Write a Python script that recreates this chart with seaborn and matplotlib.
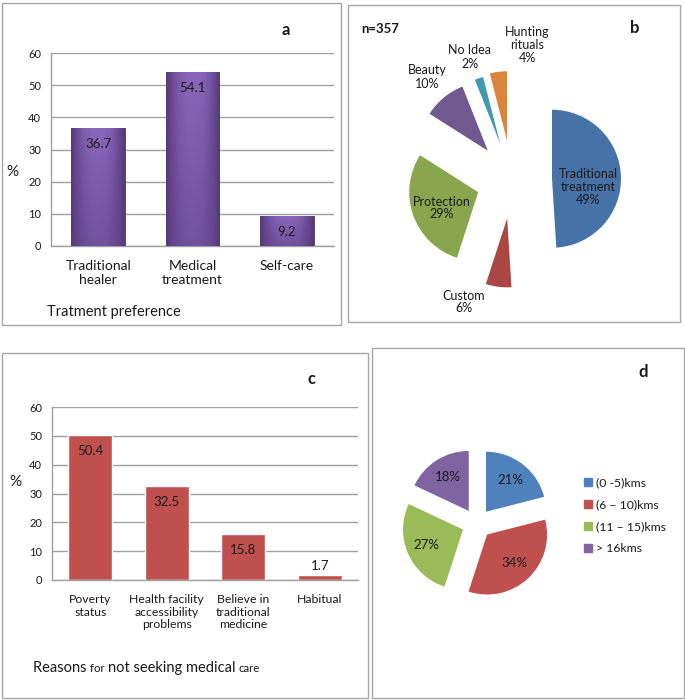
import numpy as np
import pandas as pd
import matplotlib
matplotlib.use("Agg")
import matplotlib.pyplot as plt
import seaborn as sns
from matplotlib.patches import Rectangle
from matplotlib.lines import Line2D
from matplotlib.colors import LinearSegmentedColormap

# -------------------------
# Datos
# -------------------------
pref_cats = ["Traditional\nhealer", "Medical\ntreatment", "Self-care"]
pref_vals = [36.7, 54.1, 9.2]

use_labels = ["Traditional\ntreatment", "Custom", "Protection", "Beauty", "No Idea", "Hunting\nrituals"]
use_vals = [49, 6, 29, 10, 2, 4]

reason_cats = ["Poverty\nstatus", "Health facility\naccessibility\nproblems",
               "Believe in\ntraditional\nmedicine", "Habitual"]
reason_vals = [50.4, 32.5, 15.8, 1.7]

dist_labels = ["(0 -5)kms", "(6 – 10)kms", "(11 – 15)kms", "> 16kms"]
dist_vals = [21, 34, 27, 18]

# -------------------------
# Estilo
# -------------------------
sns.set_style("white")
plt.rcParams["font.family"] = ["Lato", "DejaVu Sans"]
TXT = "#1a1a1a"
GRID = "#a0a0a0"

W, H = 685, 700
fig = plt.figure(figsize=(W / 100, H / 100), dpi=100)
fig.patch.set_facecolor("white")


def px_rect(l, t, r, b):
    return [l / W, 1 - b / H, (r - l) / W, (b - t) / H]


def ftext(x, y, s, **kw):
    return fig.text(x / W, 1 - y / H, s, color=TXT, **kw)


# marcos de los paneles
for l, t, r, b in [(2, 3, 341, 325), (348, 5, 680, 322), (2, 353, 368, 698), (372, 348, 684, 698)]:
    fig.add_artist(Rectangle((l / W, 1 - b / H), (r - l) / W, (b - t) / H,
                             transform=fig.transFigure, fill=False, ec="#a6a6a6", lw=1))


def bar_panel(rect, cats, vals, color, width, tick_fs):
    ax = fig.add_axes(rect)
    df = pd.DataFrame({"cat": cats, "val": vals})
    sns.barplot(data=df, x="cat", y="val", color=color, saturation=1, width=width,
                errorbar=None, ax=ax, zorder=2)
    ax.set_ylim(0, 60)
    ax.set_yticks(range(0, 61, 10))
    ax.yaxis.grid(True, color=GRID, lw=1)
    ax.set_axisbelow(True)
    for s in ["top", "right"]:
        ax.spines[s].set_visible(False)
    for s in ["left", "bottom"]:
        ax.spines[s].set_color(GRID)
        ax.spines[s].set_linewidth(1)
    ax.tick_params(axis="both", length=0, colors=TXT)
    ax.tick_params(axis="y", labelsize=8, pad=7)
    ax.tick_params(axis="x", labelsize=tick_fs, pad=10)
    ax.set_xlabel("")
    ax.set_ylabel("")
    ax.set_facecolor("none")
    for p, v in zip(ax.patches, vals):
        xc = p.get_x() + p.get_width() / 2
        if v > 5:
            ax.annotate(f"{v}", (xc, v), xytext=(0, -11.5), textcoords="offset points",
                        ha="center", va="center", fontsize=9.5, color=TXT, zorder=5)
        else:
            ax.annotate(f"{v}", (xc, v), xytext=(0, 6.5), textcoords="offset points",
                        ha="center", va="center", fontsize=9.5, color=TXT, zorder=5)
    return ax


# -------------------------
# Panel a
# -------------------------
axa = bar_panel(px_rect(51, 53, 334, 246), pref_cats, pref_vals, "#7a56a6", 0.57, 10)
cmap = LinearSegmentedColormap.from_list("morado", ["#553a78", "#6c4c97", "#8a66b8"])
hz = 1 - np.abs(np.linspace(-1, 1, 60)) ** 2.5
vt = np.linspace(0.6, 1.0, 80)[:, None]
grad = hz[None, :] * vt
for p in list(axa.patches):
    x0, w, h = p.get_x(), p.get_width(), p.get_height()
    im = axa.imshow(grad, extent=[x0, x0 + w, 0, h], origin="lower", cmap=cmap,
                    vmin=0, vmax=1, aspect="auto", zorder=3)
    im.set_clip_path(p)
    p.set_edgecolor("#4a3268")
    p.set_linewidth(0.6)
axa.set_xlim(-0.5, 2.5)
axa.set_ylim(0, 60)

ftext(12, 172, "%", fontsize=11, ha="center", va="center")
ftext(47, 312, "Tratment preference", fontsize=10.5, ha="left", va="center")
ftext(286, 30, "a", fontsize=12, fontweight="bold", ha="center", va="center")

# -------------------------
# Panel b
# -------------------------
cb, rb = (512, 180), 69
axb = fig.add_axes(px_rect(cb[0] - 150, cb[1] - 150, cb[0] + 150, cb[1] + 150))
use_colors = ["#4672a8", "#aa4643", "#89a54e", "#71588f", "#4198af", "#db843d"]
use_explode = [0.58, 0.56, 0.52, 0.55, 0.55, 0.58]
axb.pie(use_vals, colors=use_colors, startangle=90, counterclock=False,
        explode=use_explode, radius=1, wedgeprops=dict(linewidth=0))
Lb = 150 / rb
axb.set_xlim(-Lb, Lb)
axb.set_ylim(-Lb, Lb)
axb.set_aspect("equal")
axb.axis("off")

b_label_pos = [(588, 187), (464, 302), (442, 208), (427, 77), (470, 57), (527, 45)]
for (lx, ly), lab, v in zip(b_label_pos, use_labels, use_vals):
    axb.text((lx - cb[0]) / rb, -(ly - cb[1]) / rb, f"{lab}\n{v}%", ha="center", va="center",
             fontsize=9, color=TXT, linespacing=1.1)

ftext(380, 29, "n=357", fontsize=9.5, fontweight="bold", ha="center", va="center")
ftext(635, 28, "b", fontsize=12, fontweight="bold", ha="center", va="center")

# -------------------------
# Panel c
# -------------------------
axc = bar_panel(px_rect(52, 407, 358, 580), reason_cats, reason_vals, "#c0504d", 0.575, 8.8)
ftext(15, 482, "%", fontsize=11, ha="center", va="center")
ftext(311, 379, "c", fontsize=12, fontweight="bold", ha="center", va="center")

# titulo con tamaños mezclados
pieces = [("Reasons ", 10.5), ("for ", 8.2), ("not seeking medical ", 10.5), ("care", 8.2)]
xcur = 33
fig.canvas.draw()
for s, fs in pieces:
    t = ftext(xcur, 672, s, fontsize=fs, ha="left", va="baseline")
    fig.canvas.draw()
    bb = t.get_window_extent()
    xcur = bb.x1

# -------------------------
# Panel d
# -------------------------
cd, rd = (476.8, 523.6), 60
axd = fig.add_axes(px_rect(cd[0] - 100, cd[1] - 100, cd[0] + 100, cd[1] + 100))
dist_colors = ["#4f81bd", "#c0504d", "#9bbb59", "#8064a2"]
axd.pie(dist_vals, colors=dist_colors, startangle=90, counterclock=False,
        explode=[0.25] * 4, radius=1, wedgeprops=dict(linewidth=0),
        autopct=lambda p: f"{p:.0f}%", pctdistance=0.66,
        textprops=dict(fontsize=9.5, color=TXT))
Ld = 100 / rd
axd.set_xlim(-Ld, Ld)
axd.set_ylim(-Ld, Ld)
axd.set_aspect("equal")
axd.axis("off")

handles = [Line2D([0], [0], marker="s", ls="", markersize=5.5, markerfacecolor=c,
                  markeredgecolor=c) for c in dist_colors]
fig.legend(handles, dist_labels, loc="upper left", bbox_to_anchor=(583 / W, 1 - 477 / H),
           bbox_transform=fig.transFigure, frameon=False, fontsize=8.8, labelcolor=TXT,
           handlelength=0.8, handletextpad=0.3, labelspacing=0.9, borderpad=0, borderaxespad=0)
ftext(643, 372, "d", fontsize=12, fontweight="bold", ha="center", va="center")

fig.savefig("out.png", dpi=100)
